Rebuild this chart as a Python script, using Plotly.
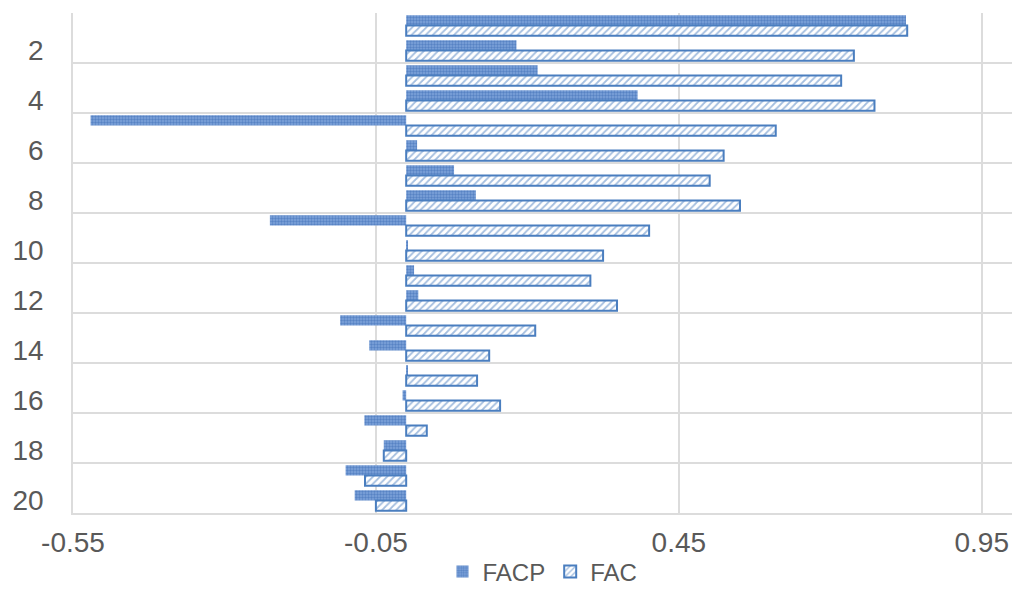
import plotly.graph_objects as go

# Lags 1..20 and the two correlation series
lags = list(range(1, 21))
facp = [0.825, 0.182, 0.217, 0.382, -0.521, 0.018, 0.079, 0.115, -0.225, 0.002,
        0.013, 0.020, -0.109, -0.061, 0.003, -0.006, -0.069, -0.037, -0.100, -0.085]
fac = [0.827, 0.739, 0.718, 0.773, 0.610, 0.524, 0.501, 0.551, 0.401, 0.325,
       0.304, 0.348, 0.213, 0.137, 0.117, 0.155, 0.034, -0.037, -0.068, -0.050]
y_ticks = list(range(2, 21, 2))
x_ticks = [-0.55, -0.05, 0.45, 0.95]

BLUE = "#4a7ebf"
GREY_TXT = "#595959"
GRID = "#dcdcdc"
FONT = "Liberation Sans, Arial, sans-serif"

fig = go.Figure()
fig.add_trace(go.Bar(
    name="FACP", y=lags, x=facp, orientation="h",
    marker=dict(
        color="#6f98d4",
        line=dict(width=0),
        pattern=dict(shape=".", size=3, solidity=0.5,
                     fgcolor="#2f62ad", bgcolor="#7fa4da", fillmode="overlay"),
    ),
))
fig.add_trace(go.Bar(
    name="FAC", y=lags, x=fac, orientation="h",
    marker=dict(
        color="white",
        line=dict(width=2, color=BLUE),
        pattern=dict(shape="/", size=5, solidity=0.35,
                     fgcolor=BLUE, bgcolor="white", fillmode="overlay"),
    ),
))

fig.update_layout(
    width=1016, height=590,
    margin=dict(l=73, r=4, t=13, b=77, autoexpand=False),
    paper_bgcolor="white", plot_bgcolor="white",
    barmode="group", bargap=0.18, bargroupgap=0.0,
    font=dict(family=FONT, color=GREY_TXT),
    legend=dict(
        orientation="h", x=0.5, xanchor="center", y=-0.118, yanchor="middle",
        font=dict(size=24, color=GREY_TXT, family=FONT),
        itemwidth=30, traceorder="normal",
    ),
    showlegend=True,
)

fig.update_xaxes(
    range=[-0.55, 1.0],
    tickvals=x_ticks, ticktext=[f"{v:.2f}" for v in x_ticks],
    tickfont=dict(size=28, color=GREY_TXT, family=FONT),
    showgrid=True, gridcolor=GRID, gridwidth=1.5,
    zeroline=False,
    showline=True, linecolor=GRID, linewidth=1.5,
    ticks="", ticklabelstandoff=4,
)

fig.update_yaxes(
    range=[20.5, 0.5],
    tickvals=y_ticks, ticktext=[str(v) for v in y_ticks],
    tickfont=dict(size=28, color=GREY_TXT, family=FONT),
    showgrid=False, zeroline=False,
    showline=True, linecolor=GRID, linewidth=1.5,
    ticks="", ticklabelstandoff=22,
    minor=dict(tick0=0.5, dtick=2, showgrid=True, gridcolor=GRID, gridwidth=1.5),
)

fig.write_html("out.html")
